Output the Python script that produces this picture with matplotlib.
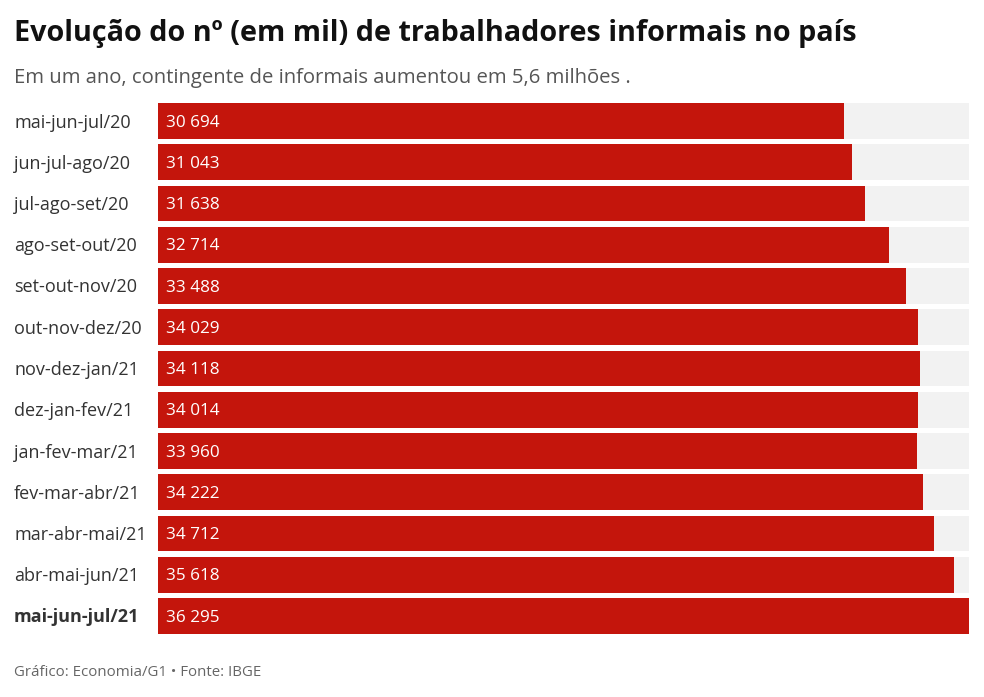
import matplotlib.pyplot as plt

plt.rcParams['font.family'] = ['Open Sans', 'DejaVu Sans']

periods = ['mai-jun-jul/20', 'jun-jul-ago/20', 'jul-ago-set/20', 'ago-set-out/20',
           'set-out-nov/20', 'out-nov-dez/20', 'nov-dez-jan/21', 'dez-jan-fev/21',
           'jan-fev-mar/21', 'fev-mar-abr/21', 'mar-abr-mai/21', 'abr-mai-jun/21',
           'mai-jun-jul/21']
informais = [30694, 31043, 31638, 32714, 33488, 34029, 34118, 34014,
             33960, 34222, 34712, 35618, 36295]

fig = plt.figure(figsize=(9.84, 6.97), dpi=100)
ax = fig.add_axes([158 / 984, 1 - 636.6 / 697, (969 - 158) / 984, (636.6 - 100.4) / 697])

vmax = max(informais)
ypos = range(len(periods))
ax.barh(ypos, [vmax] * len(periods), height=0.87, color='#f2f2f2')
ax.barh(ypos, informais, height=0.87, color='#c4150c')
ax.set_xlim(0, vmax)
ax.set_ylim(len(periods) - 0.5, -0.5)
ax.axis('off')

for i, (p, v) in enumerate(zip(periods, informais)):
    ax.text(vmax * 0.01, i + 0.04, f'{v:,}'.replace(',', ' '), va='center', ha='left',
            color='white', fontsize=12.3)
    last = i == len(periods) - 1
    fig.text(14 / 984, 1 - (122.5 + i * 41.25) / 697, p, va='center', ha='left',
             fontsize=13, color='#333333', fontweight='bold' if last else 'normal')

fig.text(14 / 984, 1 - 34 / 697, 'Evolução do nº (em mil) de trabalhadores informais no país',
         fontsize=20.7, fontweight='bold', color='#111111', va='center')
fig.text(14 / 984, 1 - 78 / 697, 'Em um ano, contingente de informais aumentou em 5,6 milhões .',
         fontsize=14.6, color='#555555', va='center')
fig.text(14 / 984, 1 - 672 / 697, 'Gráfico: Economia/G1 • Fonte: IBGE',
         fontsize=10.8, color='#666666', va='center')

fig.savefig('out.png', dpi=100)
